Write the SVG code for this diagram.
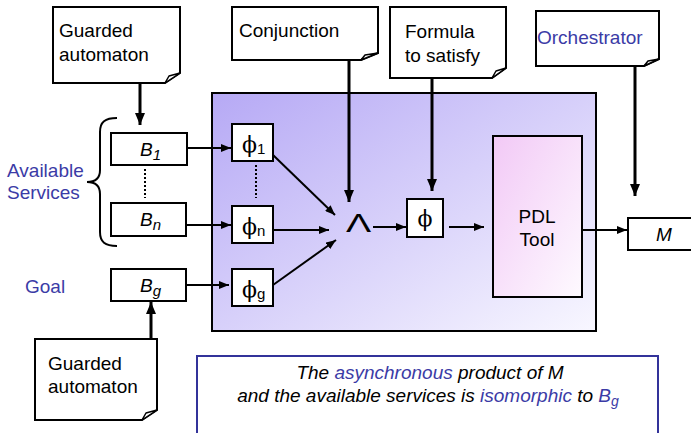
<svg xmlns="http://www.w3.org/2000/svg" width="691" height="433" viewBox="0 0 691 433">
<defs>
<linearGradient id="gMain" x1="0" y1="0" x2="1" y2="1">
<stop offset="0" stop-color="#b6a9f5"/>
<stop offset="1" stop-color="#f8f7ff"/>
</linearGradient>
<linearGradient id="gPdl" x1="0" y1="0" x2="1" y2="1">
<stop offset="0" stop-color="#f2c9f6"/>
<stop offset="1" stop-color="#fefaff"/>
</linearGradient>
<marker id="ah" markerUnits="userSpaceOnUse" markerWidth="10" markerHeight="8" refX="10" refY="4" orient="auto">
<path d="M0,0 L10,4 L0,8 Z" fill="#000"/>
</marker>
<marker id="ahb" markerUnits="userSpaceOnUse" markerWidth="12" markerHeight="10" refX="12" refY="5" orient="auto">
<path d="M0,0 L12,5 L0,10 Z" fill="#000"/>
</marker>
<style>
.note{fill:#fff;stroke:#000;stroke-width:2}
.flap{fill:#fff;stroke:#000;stroke-width:1.5;stroke-linejoin:round}
.box{fill:#fff;stroke:#000;stroke-width:2}
.t{font-family:"Liberation Sans",Arial,sans-serif;font-size:19px;fill:#000}
.blue{fill:#3b3ba6}
.it{font-style:italic}
.phi{font-family:"DejaVu Serif","Liberation Serif",serif;font-size:22px;fill:#000}
.sub{font-family:"Liberation Sans",Arial,sans-serif;font-size:15px}
.c{stroke:#000;stroke-width:2;fill:none}
.cb{stroke:#000;stroke-width:3;fill:none}
.dot{stroke:#000;stroke-width:2;stroke-dasharray:2 2;fill:none}
</style>
</defs>

<g id="main-box">
<rect x="212" y="93" width="384" height="238" fill="url(#gMain)" stroke="#000" stroke-width="2"/>
</g>

<g id="note-guarded-top">
<path class="note" d="M53,7 H180 V73 L165,83 H53 Z"/>
<path class="flap" d="M165,83 L169,76 L180,73 Z"/>
<text class="t" x="59" y="37">Guarded</text>
<text class="t" x="59" y="61">automaton</text>
</g>

<g id="note-conjunction">
<path class="note" d="M232,7 H378 V53 L361,60 H232 Z"/>
<path class="flap" d="M361,60 L365,55 L378,53 Z"/>
<text class="t" x="239" y="37">Conjunction</text>
</g>

<g id="note-formula">
<path class="note" d="M390,7 H506 V68 L492,78 H390 Z"/>
<path class="flap" d="M492,78 L496,71 L506,68 Z"/>
<text class="t" x="405" y="38">Formula</text>
<text class="t" x="405" y="62">to satisfy</text>
</g>

<g id="note-orchestrator">
<path class="note" d="M536,11 H659 V59 L644,66 H536 Z"/>
<path class="flap" d="M644,66 L648,61 L659,59 Z"/>
<text class="t blue" x="537" y="44">Orchestrator</text>
</g>

<g id="note-guarded-bottom">
<path class="note" d="M35,339 H157 V410 L142,420 H35 Z"/>
<path class="flap" d="M142,420 L146,413 L157,410 Z"/>
<text class="t" x="48" y="370">Guarded</text>
<text class="t" x="48" y="393">automaton</text>
</g>

<g id="label-available">
<path class="c" d="M117,118 C105,118 100,122 100,132 L100,170 C100,178 95,182 87,182 C95,182 100,186 100,194 L100,232 C100,242 105,246 117,246"/>
<text class="t blue" x="7" y="177">Available</text>
<text class="t blue" x="7" y="199">Services</text>
</g>

<g id="label-goal">
<text class="t blue" x="25" y="293">Goal</text>
</g>

<g id="b1">
<rect class="box" x="111" y="133" width="76" height="32"/>
<text class="t it" x="140" y="156">B<tspan class="sub" dy="4">1</tspan></text>
</g>
<g id="bn">
<rect class="box" x="111" y="203" width="75" height="33"/>
<text class="t it" x="140" y="226">B<tspan class="sub" dy="4">n</tspan></text>
</g>
<g id="bg">
<rect class="box" x="111" y="269" width="75" height="32"/>
<text class="t it" x="140" y="292">B<tspan class="sub" dy="4">g</tspan></text>
</g>

<g id="phi1">
<rect class="box" x="232" y="124" width="41" height="37"/>
<text class="phi" x="242" y="152">ϕ<tspan class="sub" font-size="16" dy="2">1</tspan></text>
</g>
<g id="phin">
<rect class="box" x="232" y="206" width="41" height="37"/>
<text class="phi" x="242" y="234">ϕ<tspan class="sub" font-size="16" dy="2">n</tspan></text>
</g>
<g id="phig">
<rect class="box" x="232" y="269" width="41" height="37"/>
<text class="phi" x="242" y="297">ϕ<tspan class="sub" font-size="16" dy="2">g</tspan></text>
</g>

<g id="and">
<text transform="translate(358.5,232) scale(1.45,1)" x="0" y="0" text-anchor="middle" font-family="Liberation Sans,Arial,sans-serif" font-size="26">Λ</text>
</g>

<g id="phi">
<rect class="box" x="407" y="199" width="36" height="38"/>
<text class="phi" x="425" y="226" text-anchor="middle">ϕ</text>
</g>

<g id="pdl">
<rect x="493" y="136" width="89" height="161" fill="url(#gPdl)" stroke="#000" stroke-width="2"/>
<text class="t" x="537" y="223" text-anchor="middle">PDL</text>
<text class="t" x="537" y="246" text-anchor="middle">Tool</text>
</g>

<g id="m">
<rect class="box" x="628" y="218" width="70" height="32"/>
<text class="t it" x="656" y="241">M</text>
</g>

<g id="caption">
<rect x="197" y="356" width="461" height="90" fill="#fff" stroke="#33339a" stroke-width="2"/>
<text class="t it" x="430" y="379" text-anchor="middle">The <tspan class="blue">asynchronous</tspan> product of M</text>
<text class="t it" x="428" y="402" text-anchor="middle">and the available services is <tspan class="blue">isomorphic</tspan> to <tspan class="blue">B<tspan font-size="14" dy="4">g</tspan></tspan></text>
</g>

<g id="connectors">
<line class="cb" x1="140" y1="83" x2="140" y2="125" marker-end="url(#ahb)"/>
<line class="cb" x1="349" y1="60" x2="349" y2="202" marker-end="url(#ahb)"/>
<line class="cb" x1="432" y1="78" x2="432" y2="191" marker-end="url(#ahb)"/>
<line class="cb" x1="635" y1="66" x2="635" y2="196" marker-end="url(#ahb)"/>
<line class="cb" x1="151" y1="339" x2="151" y2="302" marker-end="url(#ahb)"/>
<line class="dot" x1="145" y1="169" x2="145" y2="198"/>
<line class="dot" x1="256" y1="165" x2="256" y2="198"/>
<line class="c" x1="186" y1="148" x2="231" y2="148" marker-end="url(#ah)"/>
<line class="c" x1="186" y1="225" x2="231" y2="225" marker-end="url(#ah)"/>
<line class="c" x1="187" y1="285" x2="229" y2="285" marker-end="url(#ah)"/>
<line class="c" x1="273" y1="155" x2="335" y2="215" marker-end="url(#ah)"/>
<line class="c" x1="273" y1="230" x2="329" y2="230" marker-end="url(#ah)"/>
<line class="c" x1="273" y1="285" x2="336" y2="240" marker-end="url(#ah)"/>
<line class="c" x1="373" y1="227" x2="406" y2="227" marker-end="url(#ah)"/>
<line class="c" x1="449" y1="227" x2="484" y2="227" marker-end="url(#ah)"/>
<line class="c" x1="582" y1="230" x2="627" y2="230" marker-end="url(#ah)"/>
</g>
</svg>
